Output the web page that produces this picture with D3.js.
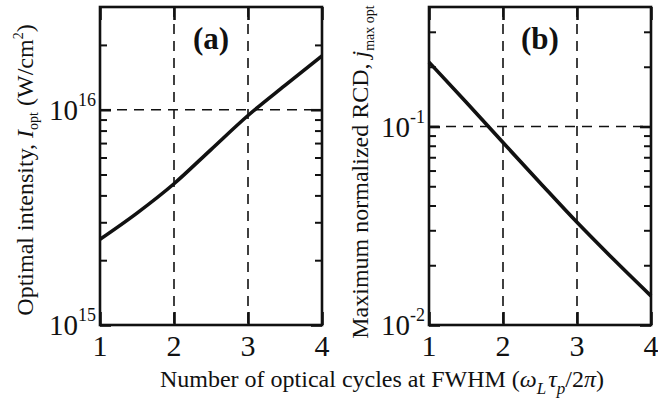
<!DOCTYPE html>
<html><head><meta charset="utf-8">
<script src="https://cdn.jsdelivr.net/npm/d3@7"></script>
<style>
body{margin:0;background:#fff}
svg{display:block}
text{font-family:"Liberation Serif","Times New Roman",serif;fill:#111}
</style>
</head><body><svg id="c" width="658" height="402"></svg>
<script>
// ---- data ----
const cycles = [1, 1.5, 2, 2.5, 3, 3.5, 4];
const intensityOpt = [2.5e15, 3.31e15, 4.53e15, 6.53e15, 9.4e15, 1.297e16, 1.78e16];
const jMaxOpt = [0.211, 0.133, 0.083, 0.0521, 0.0329, 0.0213, 0.014];
const xTickValues = [1, 2, 3, 4];
const xGrid = [2, 3];
const panelA = {label: "(a)", domain: [1e15, 3e16], majors: [1e15, 1e16], grid: 1e16, expLabels: ["15", "16"], values: intensityOpt};
const panelB = {label: "(b)", domain: [0.01, 0.4], majors: [0.01, 0.1], grid: 0.1, expLabels: ["-2", "-1"], values: jMaxOpt};

const svg = d3.select("#c");
const INK = "#111";

function minorTicks(domain){
  const out = [];
  const lo = Math.floor(Math.log10(domain[0])), hi = Math.ceil(Math.log10(domain[1]));
  for (let e = lo; e < hi; e++) for (let m = 2; m <= 9; m++) {
    const v = m * Math.pow(10, e);
    if (v > domain[0] && v < domain[1]) out.push(v);
  }
  return out;
}

function drawPanel(p, x0, x1, y0, y1){
  const x = d3.scaleLinear().domain([1, 4]).range([x0, x1]);
  const y = d3.scaleLog().domain(p.domain).range([y1, y0]);
  const g = svg.append("g");

  // dashed grid
  g.selectAll("line.vg").data(xGrid).join("line")
    .attr("x1", d => x(d)).attr("x2", d => x(d)).attr("y1", y0).attr("y2", y1)
    .attr("stroke", INK).attr("stroke-width", 1.6).attr("stroke-dasharray", "10,7");
  g.append("line").attr("x1", x0).attr("x2", x1).attr("y1", y(p.grid)).attr("y2", y(p.grid))
    .attr("stroke", INK).attr("stroke-width", 1.6).attr("stroke-dasharray", "10,7");

  const styleAxis = sel => { sel.select(".domain").remove(); sel.selectAll("line").attr("stroke", INK); };
  const minors = minorTicks(p.domain);
  // minor y ticks, both sides
  g.append("g").attr("transform", `translate(${x0},0)`)
    .call(d3.axisLeft(y).tickValues(minors).tickSize(-7).tickFormat(""))
    .call(styleAxis).selectAll("line").attr("stroke-width", 2);
  g.append("g").attr("transform", `translate(${x1},0)`)
    .call(d3.axisRight(y).tickValues(minors).tickSize(-7).tickFormat(""))
    .call(styleAxis).selectAll("line").attr("stroke-width", 2);
  // major y ticks
  g.append("g").attr("transform", `translate(${x0},0)`)
    .call(d3.axisLeft(y).tickValues(p.majors).tickSize(-11).tickFormat(""))
    .call(styleAxis).selectAll("line").attr("stroke-width", 2.6);
  g.append("g").attr("transform", `translate(${x1},0)`)
    .call(d3.axisRight(y).tickValues(p.majors).tickSize(-11).tickFormat(""))
    .call(styleAxis).selectAll("line").attr("stroke-width", 2.6);
  // x ticks, bottom and top
  g.append("g").attr("transform", `translate(0,${y1})`)
    .call(d3.axisBottom(x).tickValues(xTickValues).tickSize(-13).tickFormat(""))
    .call(styleAxis).selectAll("line").attr("stroke-width", 2.6);
  g.append("g").attr("transform", `translate(0,${y0})`)
    .call(d3.axisTop(x).tickValues(xTickValues).tickSize(-13).tickFormat(""))
    .call(styleAxis).selectAll("line").attr("stroke-width", 2.6);

  // frame
  g.append("rect").attr("x", x0).attr("y", y0).attr("width", x1 - x0).attr("height", y1 - y0)
    .attr("fill", "none").attr("stroke", INK).attr("stroke-width", 2.6);

  // curve
  const line = d3.line().x((d, i) => x(cycles[i])).y(d => y(d)).curve(d3.curveMonotoneX);
  g.append("path").attr("d", line(p.values)).attr("fill", "none")
    .attr("stroke", INK).attr("stroke-width", 3.6).attr("stroke-linecap", "butt");

  // x tick labels
  g.selectAll("text.xt").data(xTickValues).join("text")
    .attr("x", d => x(d)).attr("y", y1 + 31).attr("text-anchor", "middle")
    .attr("font-size", 30).text(d => d);

  // y tick labels
  p.majors.forEach((v, i) => {
    const t = g.append("text").attr("x", x0 - 4).attr("y", y(v) + 10).attr("text-anchor", "end").attr("font-size", 29);
    t.append("tspan").text("10");
    t.append("tspan").attr("font-size", 18).attr("dy", -14).text(p.expLabels[i]);
  });

  // panel label
  g.append("text").attr("x", (x0 + x1) / 2).attr("y", 49).attr("text-anchor", "middle")
    .attr("font-size", 31).attr("font-weight", "bold").text(p.label);
  return g;
}

drawPanel(panelA, 100, 322, 7, 325);
drawPanel(panelB, 429, 651, 7, 325);

// y axis titles
const ta = svg.append("text").attr("transform", "translate(33,170) rotate(-90)")
  .attr("text-anchor", "middle").attr("font-size", 24);
ta.append("tspan").text("Optimal intensity, ");
ta.append("tspan").attr("font-style", "italic").text("I");
ta.append("tspan").attr("font-size", 14).attr("dy", 5).text("opt");
ta.append("tspan").attr("dy", -5).text(" (W/cm");
ta.append("tspan").attr("font-size", 14).attr("dy", -10).text("2");
ta.append("tspan").attr("dy", 10).text(")");

const tb = svg.append("text").attr("transform", "translate(368,172) rotate(-90)")
  .attr("text-anchor", "middle").attr("font-size", 24);
tb.append("tspan").text("Maximum normalized RCD, ");
tb.append("tspan").attr("font-style", "italic").text("j");
tb.append("tspan").attr("font-size", 14).attr("dy", 6).text("max opt");

// x axis title
const tx = svg.append("text").attr("x", 382).attr("y", 387).attr("text-anchor", "middle").attr("font-size", 24);
tx.append("tspan").text("Number of optical cycles at FWHM (");
tx.append("tspan").attr("font-style", "italic").text("ω");
tx.append("tspan").attr("font-style", "italic").attr("font-size", 17).attr("dy", 7).text("L");
tx.append("tspan").attr("font-style", "italic").attr("dy", -7).attr("dx", 2).text("τ");
tx.append("tspan").attr("font-style", "italic").attr("font-size", 17).attr("dy", 7).text("p");
tx.append("tspan").attr("dy", -7).text("/2");
tx.append("tspan").attr("font-style", "italic").text("π");
tx.append("tspan").text(")");
</script>
</body></html>
